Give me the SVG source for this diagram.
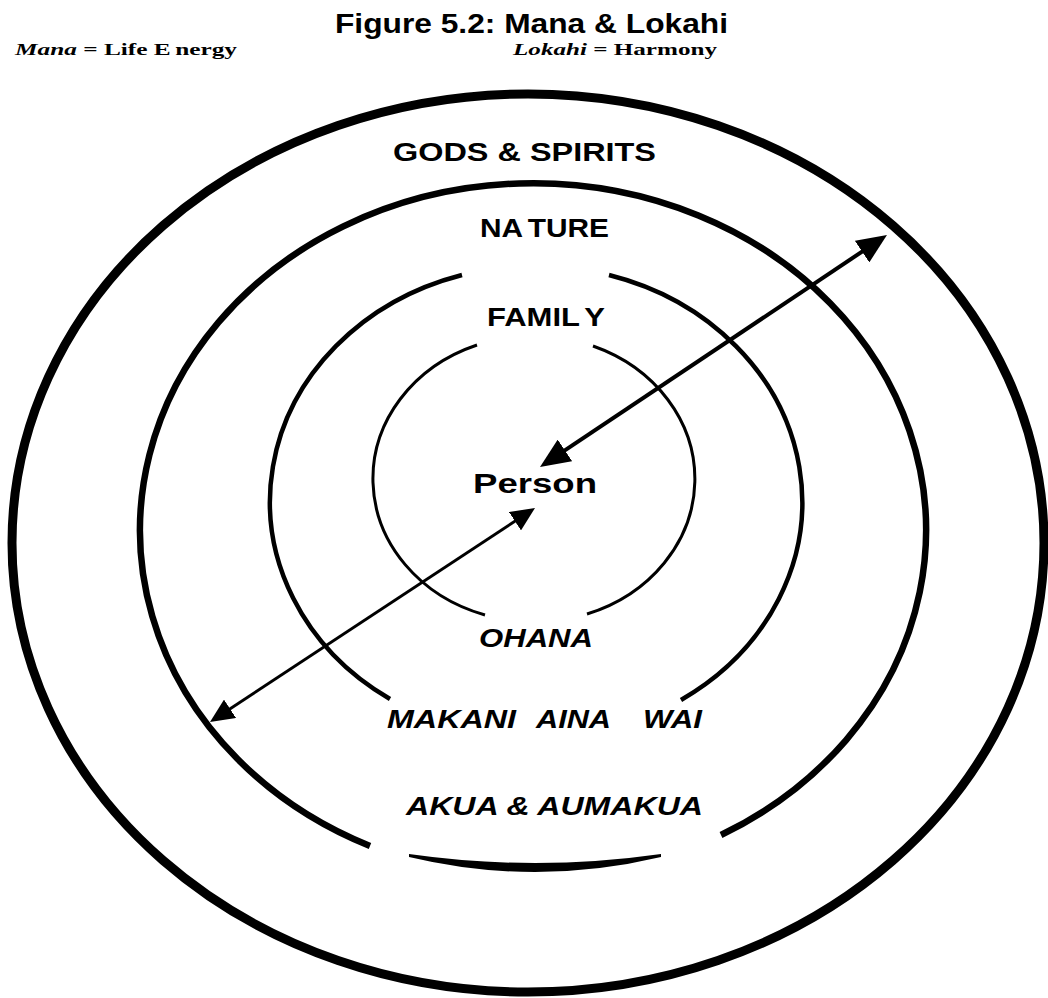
<svg xmlns="http://www.w3.org/2000/svg" width="1048" height="998" viewBox="0 0 1048 998">
<style>
.ring{fill:none;stroke:#000}
.lbl{font-family:"Liberation Sans",Arial,sans-serif;font-weight:bold;fill:#000}
.it{font-style:italic}
.ser{font-family:"Liberation Serif","Times New Roman",serif;font-weight:bold;fill:#000}
.arrow{stroke:#000;fill:none}
</style>
<defs>
<marker id="headBig" viewBox="0 0 30 26" refX="24" refY="13" markerWidth="30" markerHeight="26" markerUnits="userSpaceOnUse" orient="auto-start-reverse"><path d="M0,0 L30,13 L0,26 z" fill="#000"/></marker>
<marker id="headSmall" viewBox="0 0 24 22" refX="18" refY="11" markerWidth="24" markerHeight="22" markerUnits="userSpaceOnUse" orient="auto-start-reverse"><path d="M0,0 L24,11 L0,22 z" fill="#000"/></marker>
</defs>
<rect width="1048" height="998" fill="#fff"/>
<g id="title">
<text class="lbl" x="335" y="33" font-size="28" textLength="393" lengthAdjust="spacingAndGlyphs">Figure 5.2: Mana &amp; Lokahi</text>
</g>
<g id="legend-mana">
<text class="ser" x="15" y="55" font-size="17" textLength="222" lengthAdjust="spacingAndGlyphs"><tspan font-style="italic">Mana</tspan> = Life E<tspan dx="3">nergy</tspan></text>
</g>
<g id="legend-lokahi">
<text class="ser" x="513" y="55" font-size="17" textLength="204" lengthAdjust="spacingAndGlyphs"><tspan font-style="italic">Lokahi</tspan> = Harmony</text>
</g>
<g id="ring-gods">
<ellipse class="ring" cx="528" cy="543" rx="516" ry="449" stroke-width="9"/>
<text class="lbl" x="393" y="161" font-size="26" textLength="263" lengthAdjust="spacingAndGlyphs">GODS &amp; SPIRITS</text>
<text class="lbl it" x="406" y="815" font-size="26" textLength="297" lengthAdjust="spacingAndGlyphs">AKUA &amp; AUMAKUA</text>
</g>
<g id="ring-nature">
<path class="ring" d="M370,846 A393,347 0 1 1 721,835" stroke-width="6.5"/>
<path d="M409,854 Q535,872 661,854 L661,857 Q535,887 409,857 z" fill="#000"/>
<text class="lbl" x="480" y="237" font-size="26" textLength="129" lengthAdjust="spacingAndGlyphs">NA<tspan dx="6">TURE</tspan></text>
<text class="lbl it" font-size="25"><tspan x="387" y="728" textLength="129" lengthAdjust="spacingAndGlyphs">MAKANI</tspan><tspan x="536" y="728" textLength="75" lengthAdjust="spacingAndGlyphs">AINA</tspan><tspan x="643" y="728" textLength="59" lengthAdjust="spacingAndGlyphs">WAI</tspan></text>
</g>
<g id="ring-family">
<path class="ring" d="M462,275 A266,236 0 0 0 390,699" stroke-width="4.5"/>
<path class="ring" d="M609,275 A266,236 0 0 1 681,700" stroke-width="4.5"/>
<text class="lbl" x="487" y="326" font-size="26" textLength="118" lengthAdjust="spacingAndGlyphs">FAMIL<tspan dx="6">Y</tspan></text>
<text class="lbl it" x="479" y="647" font-size="26" textLength="114" lengthAdjust="spacingAndGlyphs">OHANA</text>
</g>
<g id="ring-person">
<path class="ring" d="M477,345 A161,143 0 0 0 485,615" stroke-width="3"/>
<path class="ring" d="M593,346 A161,143 0 0 1 587,614" stroke-width="3"/>
<text class="lbl" x="473" y="493" font-size="28" textLength="124" lengthAdjust="spacingAndGlyphs">Person</text>
</g>
<g id="connectors">
<line class="arrow" x1="545" y1="463.7" x2="882" y2="238.3" stroke-width="4" marker-start="url(#headBig)" marker-end="url(#headBig)"/>
<line class="arrow" x1="530" y1="511.3" x2="215" y2="718.7" stroke-width="3" marker-start="url(#headSmall)" marker-end="url(#headSmall)"/>
</g>
</svg>
